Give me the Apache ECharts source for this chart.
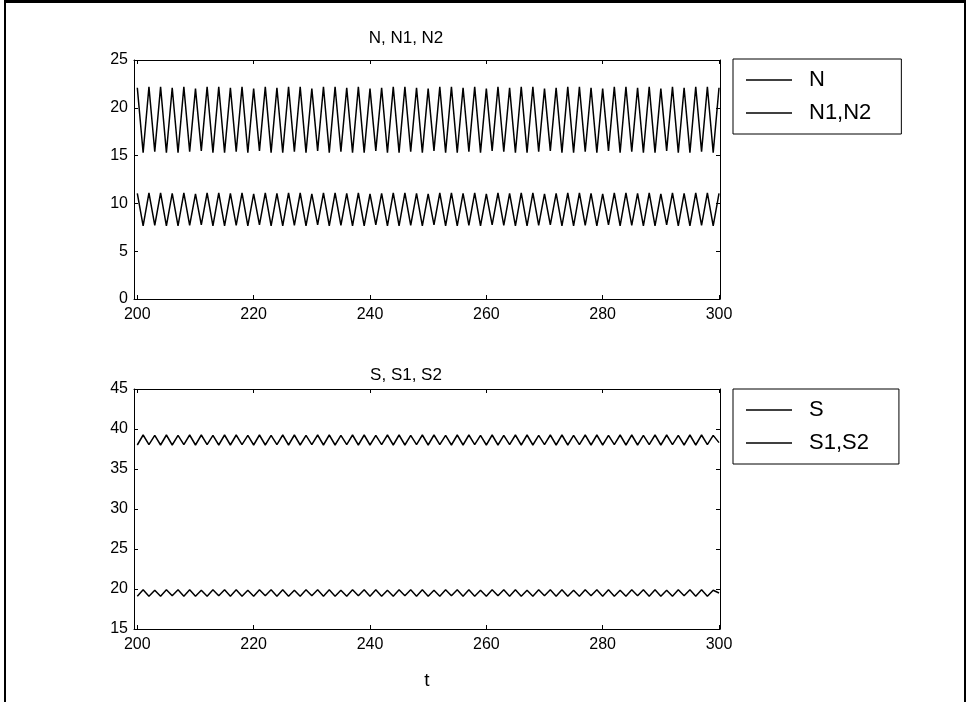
<!DOCTYPE html>
<html><head><meta charset="utf-8">
<script src="https://cdn.jsdelivr.net/npm/echarts@6/dist/echarts.min.js"></script>
<style>html,body{margin:0;padding:0;background:#fff}#c{width:971px;height:702px}</style>
</head><body><div id="c"></div>
<script>
// time axis (t = 200 ... 300)
const tValues = [200,201,202,203,204,205,206,207,208,209,
210,211,212,213,214,215,216,217,218,219,
220,221,222,223,224,225,226,227,228,229,
230,231,232,233,234,235,236,237,238,239,
240,241,242,243,244,245,246,247,248,249,
250,251,252,253,254,255,256,257,258,259,
260,261,262,263,264,265,266,267,268,269,
270,271,272,273,274,275,276,277,278,279,
280,281,282,283,284,285,286,287,288,289,
290,291,292,293,294,295,296,297,298,299,
300];
// N
const nValues = [22.1,15.3,22.2,15.4,22.2,15.3,22.1,15.3,22.2,15.4,
22.0,15.5,22.2,15.3,22.2,15.3,22.1,15.4,22.2,15.3,
22.0,15.5,22.2,15.3,22.1,15.3,22.2,15.4,22.2,15.3,
22.0,15.5,22.2,15.3,22.2,15.4,22.1,15.3,22.2,15.3,
22.0,15.5,22.1,15.3,22.2,15.3,22.2,15.4,22.1,15.3,
22.0,15.5,22.2,15.3,22.2,15.3,22.1,15.4,22.2,15.3,
22.0,15.5,22.2,15.4,22.1,15.3,22.2,15.3,22.2,15.4,
22.0,15.5,22.1,15.3,22.2,15.3,22.2,15.4,22.1,15.3,
22.0,15.5,22.2,15.3,22.2,15.4,22.1,15.3,22.2,15.3,
22.0,15.5,22.2,15.3,22.1,15.3,22.2,15.4,22.2,15.3,
22.1];
// N1, N2
const n12Values = [11.05,7.65,11.1,7.7,11.1,7.65,11.05,7.65,11.1,7.7,
11.0,7.75,11.1,7.65,11.1,7.65,11.05,7.7,11.1,7.65,
11.0,7.75,11.1,7.65,11.05,7.65,11.1,7.7,11.1,7.65,
11.0,7.75,11.1,7.65,11.1,7.7,11.05,7.65,11.1,7.65,
11.0,7.75,11.05,7.65,11.1,7.65,11.1,7.7,11.05,7.65,
11.0,7.75,11.1,7.65,11.1,7.65,11.05,7.7,11.1,7.65,
11.0,7.75,11.1,7.7,11.05,7.65,11.1,7.65,11.1,7.7,
11.0,7.75,11.05,7.65,11.1,7.65,11.1,7.7,11.05,7.65,
11.0,7.75,11.1,7.65,11.1,7.7,11.05,7.65,11.1,7.65,
11.0,7.75,11.1,7.65,11.05,7.65,11.1,7.7,11.1,7.65,
11.05];
// S
const sValues = [38.0,39.25,38.05,39.2,38.0,39.25,38.0,39.2,38.05,39.25,
38.0,39.25,38.05,39.2,38.0,39.25,38.0,39.25,38.05,39.2,
38.0,39.25,38.0,39.2,38.05,39.25,38.0,39.25,38.0,39.2,
38.05,39.25,38.0,39.25,38.0,39.2,38.05,39.25,38.0,39.25,
38.0,39.2,38.05,39.25,38.0,39.25,38.0,39.2,38.05,39.25,
38.0,39.25,38.05,39.2,38.0,39.25,38.0,39.25,38.05,39.2,
38.0,39.25,38.0,39.2,38.05,39.25,38.0,39.25,38.0,39.2,
38.05,39.25,38.0,39.25,38.0,39.2,38.05,39.25,38.0,39.25,
38.0,39.2,38.05,39.25,38.0,39.25,38.0,39.2,38.05,39.25,
38.0,39.25,38.05,39.2,38.0,39.25,38.0,39.25,38.05,39.2,
38.3];
// S1, S2
const s12Values = [19.1,19.9,19.1,19.85,19.1,19.9,19.15,19.9,19.1,19.9,
19.1,19.85,19.1,19.9,19.15,19.9,19.1,19.9,19.1,19.85,
19.1,19.9,19.15,19.9,19.1,19.9,19.1,19.85,19.1,19.9,
19.15,19.9,19.1,19.9,19.1,19.85,19.1,19.9,19.15,19.9,
19.1,19.9,19.1,19.85,19.1,19.9,19.15,19.9,19.1,19.9,
19.1,19.85,19.1,19.9,19.15,19.9,19.1,19.9,19.1,19.85,
19.1,19.9,19.15,19.9,19.1,19.9,19.1,19.85,19.1,19.9,
19.15,19.9,19.1,19.9,19.1,19.85,19.1,19.9,19.15,19.9,
19.1,19.9,19.1,19.85,19.1,19.9,19.15,19.9,19.1,19.9,
19.1,19.85,19.1,19.9,19.15,19.9,19.1,19.9,19.1,19.85,
19.5];
const xTickValues = [200,220,240,260,280,300];
const topTitle = 'N, N1, N2';
const bottomTitle = 'S, S1, S2';
const topNames = ['N', 'N1,N2'];
const bottomNames = ['S', 'S1,S2'];

const FONT = '"Liberation Sans", Arial, sans-serif';
const pairs = arr => tValues.map((t, i) => [t, arr[i]]);

function xAx(gridIndex, position, showLabel, name) {
  return {
    type: 'value', gridIndex, position, min: 199.43, max: 300.17,
    axisLine: { show: true, onZero: false, lineStyle: { color: '#000', width: 1 } },
    axisTick: { show: true, inside: true, length: 4, customValues: xTickValues, lineStyle: { color: '#000' } },
    axisLabel: { show: showLabel, customValues: xTickValues, color: '#000', fontSize: 16, fontFamily: FONT, margin: 8 },
    splitLine: { show: false },
    name: name || '', nameLocation: 'middle', nameGap: 42,
    nameTextStyle: { color: '#000', fontSize: 19, fontFamily: FONT }
  };
}
function yAx(gridIndex, position, showLabel, min, max) {
  return {
    type: 'value', gridIndex, position, min, max, interval: 5,
    axisLine: { show: true, onZero: false, lineStyle: { color: '#000', width: 1 } },
    axisTick: { show: true, inside: true, length: 4, lineStyle: { color: '#000' } },
    axisLabel: { show: showLabel, color: '#000', fontSize: 16, fontFamily: FONT, margin: 6 },
    splitLine: { show: false }
  };
}
function legend(top, names) {
  return {
    left: 733, top, orient: 'vertical', data: names,
    icon: 'rect',
    borderColor: '#000', borderWidth: 1, padding: [9, 30, 9, 13],
    itemWidth: 46, itemHeight: 1.5, itemGap: 9, selectedMode: false,
    itemStyle: { color: '#000', borderWidth: 0 },
    textStyle: { color: '#000', fontSize: 22, fontFamily: FONT, lineHeight: 24, padding: [0, 0, 0, 12] }
  };
}
function line(name, arr, xi, yi) {
  return {
    type: 'line', name, data: pairs(arr), xAxisIndex: xi, yAxisIndex: yi,
    symbol: 'none', animation: false, silent: true,
    lineStyle: { color: '#000', width: 1.5 }, itemStyle: { color: '#000' }
  };
}

const chart = echarts.init(document.getElementById('c'), null, { renderer: 'canvas' });
chart.setOption({
  backgroundColor: '#fff',
  animation: false,
  grid: [
    { left: 134, top: 60, width: 586, height: 239 },
    { left: 134, top: 389, width: 586, height: 240 }
  ],
  xAxis: [
    xAx(0, 'bottom', true), xAx(0, 'top', false),
    xAx(1, 'bottom', true, 't'), xAx(1, 'top', false)
  ],
  yAxis: [
    yAx(0, 'left', true, 0, 25), yAx(0, 'right', false, 0, 25),
    yAx(1, 'left', true, 15, 45), yAx(1, 'right', false, 15, 45)
  ],
  legend: [legend(59, topNames), legend(389, bottomNames)],
  series: [
    line(topNames[0], nValues, 0, 0),
    line(topNames[1], n12Values, 0, 0),
    line(bottomNames[0], sValues, 2, 2),
    line(bottomNames[1], s12Values, 2, 2)
  ],
  graphic: [
    { type: 'text', x: 406, y: 38, style: { text: topTitle, align: 'center', verticalAlign: 'middle', font: '17px ' + FONT, fill: '#000' } },
    { type: 'text', x: 406, y: 375, style: { text: bottomTitle, align: 'center', verticalAlign: 'middle', font: '17px ' + FONT, fill: '#000' } },
    { type: 'line', shape: { x1: 5, y1: 1.5, x2: 965, y2: 1.5 }, style: { stroke: '#000', lineWidth: 3 } },
    { type: 'line', shape: { x1: 5, y1: 0, x2: 5, y2: 702 }, style: { stroke: '#000', lineWidth: 2 } },
    { type: 'line', shape: { x1: 965, y1: 0, x2: 965, y2: 702 }, style: { stroke: '#000', lineWidth: 2 } }
  ]
});
</script></body></html>
